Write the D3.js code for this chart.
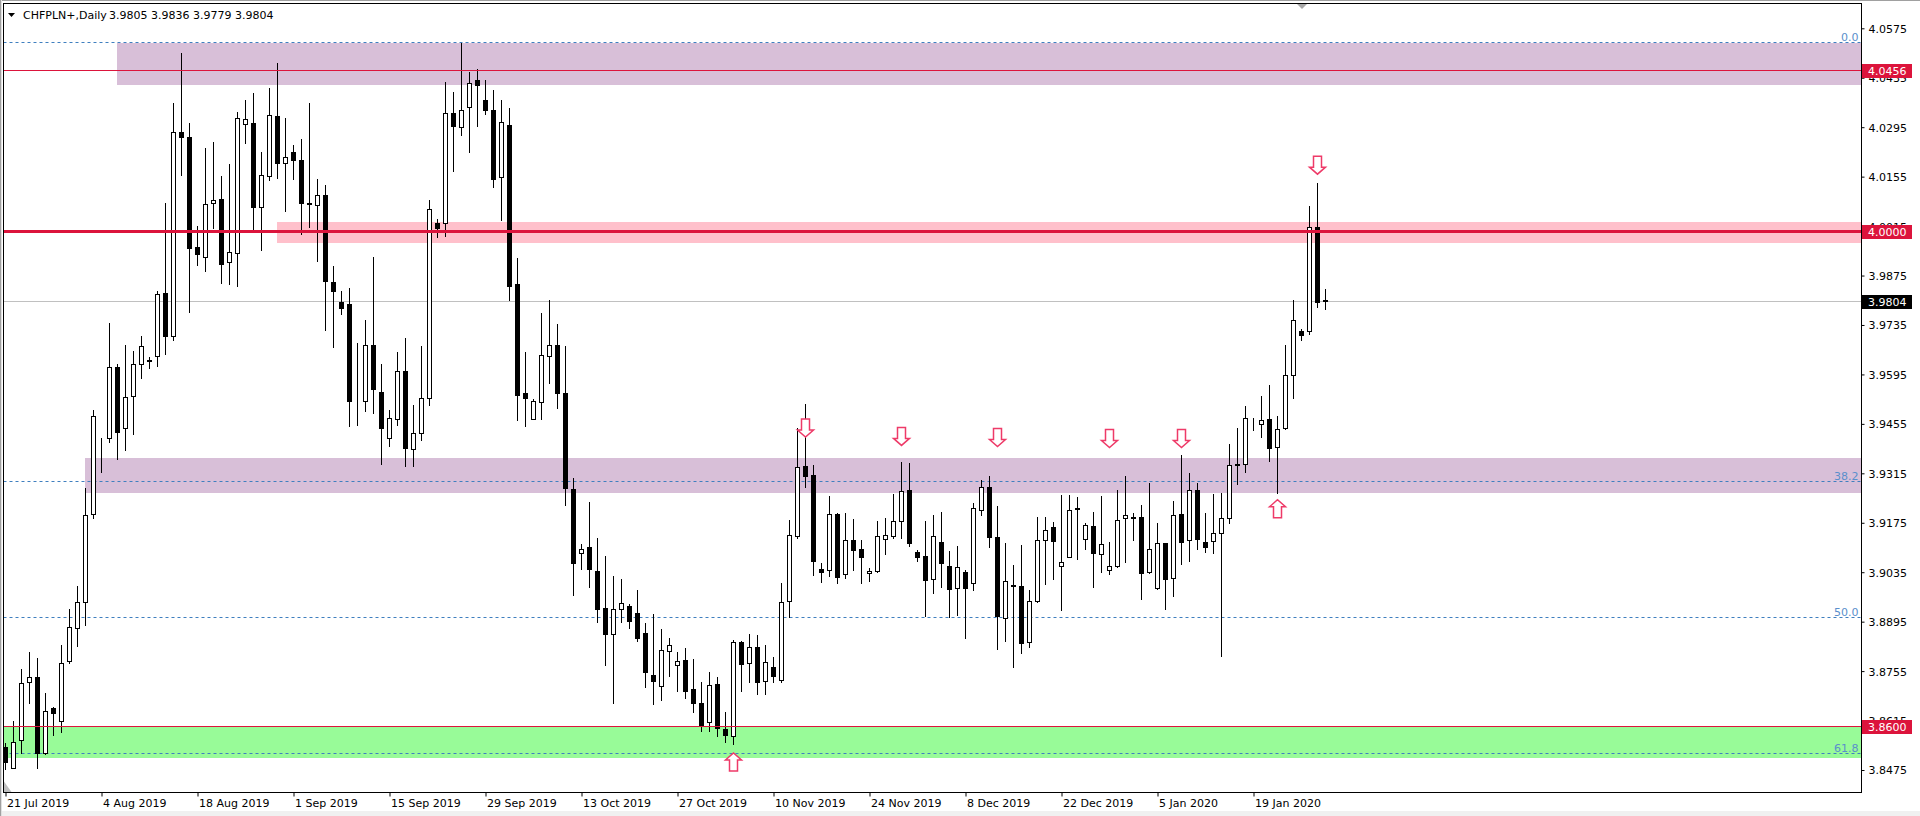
<!DOCTYPE html>
<html><head><meta charset="utf-8">
<script src="https://cdn.jsdelivr.net/npm/d3@7"></script>
<style>
html,body{margin:0;padding:0;background:#fff;overflow:hidden}
svg{display:block}
text{font-family:"DejaVu Sans",Verdana,sans-serif;font-size:11px}
</style>
</head><body>
<svg id="chart" width="1920" height="816"></svg>
<script>
// ---------------- DATA ----------------
const symbolTitle = "CHFPLN+,Daily";
const firstDay = "2019-07-21";   // first bar (Sunday session); Saturday has no bar
const lastDay = "2020-01-29";

const open = [3.8541,3.8482,3.8560,3.8723,3.8737,3.8522,3.8650,3.8615,3.8785,3.8878,
3.8952,3.9200,3.9406,3.9416,3.9617,3.9443,3.9534,3.9624,3.9637,3.9647,
3.9826,3.9704,4.0282,4.0268,3.9957,3.9928,4.0079,4.0092,3.9912,3.9938,
4.0303,4.0306,4.0068,4.0156,4.0326,4.0195,4.0224,4.0202,4.0080,4.0074,
4.0103,3.9856,3.9799,3.9793,3.9520,3.9519,3.9677,3.9544,3.9414,3.9468,
3.9604,3.9383,3.9428,3.9527,4.0023,4.0023,4.0335,4.0295,4.0352,4.0430,
4.0371,4.0344,4.0153,4.0301,3.9850,3.9541,3.9469,3.9516,3.9647,3.9679,
3.9543,3.9271,3.9090,3.9105,3.9038,3.8933,3.8861,3.8931,3.8938,3.8919,
3.8862,3.8743,3.8713,3.8811,3.8771,3.8787,3.8705,3.8665,3.8610,3.8719,
3.8590,3.8570,3.8838,3.8777,3.8823,3.8727,3.8767,3.8729,3.8953,3.9138,
3.9336,3.9310,3.9044,3.9040,3.9200,3.9029,3.9125,3.9101,3.9032,3.9038,
3.9130,3.9138,3.9179,3.9268,3.9091,3.9081,3.9015,3.9120,3.9052,3.8989,
3.9036,3.9004,3.9210,3.9275,3.9134,3.8904,3.8998,3.8995,3.8837,3.8953,
3.9125,3.9162,3.9054,3.9077,3.9216,3.9128,3.9165,3.9086,3.9040,3.9052,
3.9188,3.9191,3.9191,3.9035,3.8989,3.9117,3.9018,3.9200,3.9125,3.9268,
3.9121,3.9123,3.9145,3.9188,3.9341,3.9341,3.9454,3.9454,3.9468,3.9389,
3.9442,3.9592,3.9718,3.9717,4.0011,3.9805];
const high = [3.8551,3.8613,3.8761,3.8809,3.8793,3.8694,3.8652,3.8828,3.8931,3.8995,
3.9273,3.9494,3.9416,3.9742,3.9624,3.9677,3.9660,3.9703,3.9645,3.9831,
4.0079,4.0363,4.0505,4.0308,4.0015,4.0236,4.0252,4.0158,4.0191,4.0337,
4.0372,4.0392,4.0225,4.0406,4.0477,4.0321,4.0245,4.0262,4.0363,4.0148,
4.0131,3.9902,3.9831,3.9840,3.9684,3.9749,3.9927,3.9624,3.9494,3.9658,
3.9698,3.9508,3.9675,4.0088,4.0034,4.0423,4.0395,4.0533,4.0450,4.0460,
4.0430,4.0400,4.0372,4.0350,3.9924,3.9658,3.9526,3.9768,3.9805,3.9737,
3.9675,3.9301,3.9116,3.9235,3.9133,3.9081,3.9025,3.9017,3.8945,3.8985,
3.8892,3.8918,3.8875,3.8849,3.8809,3.8821,3.8790,3.8724,3.8753,3.8738,
3.8640,3.8843,3.8840,3.8860,3.8857,3.8829,3.8795,3.9004,3.9183,3.9442,
3.9511,3.9339,3.9061,3.9251,3.9204,3.9203,3.9186,3.9126,3.9047,3.9180,
3.9188,3.9256,3.9347,3.9344,3.9098,3.9180,3.9197,3.9205,3.9095,3.9109,
3.9041,3.9231,3.9296,3.9307,3.9222,3.9118,3.9056,3.9112,3.8985,3.9190,
3.9191,3.9177,3.9254,3.9254,3.9248,3.9173,3.9205,3.9251,3.9121,3.9268,
3.9308,3.9202,3.9225,3.9288,3.9174,3.9118,3.9238,3.9367,3.9316,3.9288,
3.9203,3.9256,3.9260,3.9398,3.9443,3.9506,3.9473,3.9533,3.9565,3.9477,
3.9678,3.9806,3.9724,4.0072,4.0137,3.9836];
const low = [3.8477,3.8480,3.8524,3.8664,3.8480,3.8520,3.8575,3.8584,3.8779,3.8827,
3.8885,3.9189,3.9319,3.9403,3.9355,3.9380,3.9425,3.9585,3.9613,3.9618,
3.9653,3.9693,4.0161,3.9772,3.9905,3.9888,4.0009,3.9854,3.9851,3.9846,
4.0251,4.0003,3.9948,4.0146,4.0152,4.0059,4.0149,3.9993,4.0013,3.9917,
3.9722,3.9673,3.9767,3.9448,3.9453,3.9492,3.9485,3.9340,3.9391,3.9452,
3.9336,3.9336,3.9410,3.9509,3.9985,3.9988,4.0172,4.0274,4.0225,4.0298,
4.0333,4.0127,4.0033,3.9805,3.9465,3.9449,3.9468,3.9468,3.9572,3.9499,
3.9224,3.8970,3.9044,3.8993,3.8893,3.8771,3.8665,3.8893,3.8876,3.8839,
3.8710,3.8662,3.8673,3.8742,3.8700,3.8680,3.8640,3.8585,3.8585,3.8570,
3.8555,3.8550,3.8700,3.8725,3.8690,3.8690,3.8725,3.8725,3.8907,3.9133,
3.9277,3.9028,3.9008,3.9025,3.9004,3.9020,3.9042,3.9005,3.9011,3.9036,
3.9086,3.9133,3.9133,3.9110,3.9068,3.8911,3.8977,3.8994,3.8907,3.8914,
3.8850,3.8985,3.9198,3.9107,3.8819,3.8841,3.8768,3.8805,3.8824,3.8950,
3.9003,3.9017,3.8929,3.9077,3.9073,3.9100,3.8994,3.9037,3.9029,3.9050,
3.9065,3.9126,3.8960,3.9032,3.8987,3.8932,3.8969,3.9057,3.9068,3.9100,
3.9093,3.9089,3.8799,3.9174,3.9284,3.9320,3.9437,3.9419,3.9349,3.9258,
3.9440,3.9529,3.9692,3.9709,3.9787,3.9779];
const close = [3.8497,3.8555,3.8720,3.8739,3.8524,3.8643,3.8636,3.8779,3.8881,3.8952,
3.9197,3.9478,3.9407,3.9617,3.9431,3.9532,3.9624,3.9676,3.9632,3.9823,
3.9704,4.0280,4.0268,3.9952,3.9936,4.0078,4.0090,3.9908,3.9943,4.0320,
4.0317,4.0070,4.0159,4.0329,4.0195,4.0210,4.0201,4.0081,4.0077,4.0102,
3.9860,3.9830,3.9782,3.9519,3.9519,3.9677,3.9555,3.9442,3.9473,3.9604,
3.9388,3.9428,3.9527,4.0062,4.0010,4.0334,4.0299,4.0345,4.0420,4.0415,
4.0345,4.0147,4.0309,3.9846,3.9537,3.9528,3.9520,3.9651,3.9679,3.9543,
3.9273,3.9061,3.9101,3.9045,3.8930,3.8861,3.8930,3.8947,3.8897,3.8848,
3.8753,3.8727,3.8815,3.8828,3.8783,3.8700,3.8665,3.8600,3.8716,3.8595,
3.8575,3.8837,3.8776,3.8822,3.8725,3.8780,3.8742,3.8950,3.9139,3.9332,
3.9308,3.9068,3.9037,3.9199,3.9022,3.9125,3.9099,3.9079,3.9038,3.9138,
3.9139,3.9179,3.9264,3.9119,3.9079,3.9014,3.9137,3.9062,3.8988,3.9049,
3.8991,3.9216,3.9275,3.9134,3.8912,3.9009,3.8995,3.8834,3.8953,3.9125,
3.9154,3.9122,3.9063,3.9210,3.9213,3.9168,3.9089,3.9114,3.9052,3.9183,
3.9196,3.9189,3.9034,3.9101,3.9117,3.9017,3.9197,3.9120,3.9268,3.9128,
3.9106,3.9145,3.9189,3.9339,3.9339,3.9471,3.9454,3.9465,3.9386,3.9440,
3.9592,3.9748,3.9706,4.0011,3.9801,3.9804];

const priceTickLabels = ["4.0575","4.0435","4.0295","4.0155","4.0015","3.9875","3.9735","3.9595",
  "3.9455","3.9315","3.9175","3.9035","3.8895","3.8755","3.8615","3.8475"];
const dateTickLabels = ["21 Jul 2019","4 Aug 2019","18 Aug 2019","1 Sep 2019","15 Sep 2019","29 Sep 2019",
  "13 Oct 2019","27 Oct 2019","10 Nov 2019","24 Nov 2019","8 Dec 2019","22 Dec 2019","5 Jan 2020","19 Jan 2020"];

// horizontal levels (red lines with price tags)
const levelPrices = [4.0456, 4.0000, 3.8600];
const levelWidths = [1, 3, 1];
const lastPrice = 3.9804;

// fibonacci retracement levels
const fibLabels = ["0.0","38.2","50.0","61.8"];
const fibPrices = [4.0535, 3.9293, 3.8909, 3.8524];

// zones: top price, bottom price, start bar (-1 = from left edge), colour
const zoneTop = [4.0533, 4.0026, 3.9357, 3.8600];
const zoneBottom = [4.0415, 3.9968, 3.9260, 3.8509];
const zoneStartBar = [14, 34, 10, -1];
const zoneColor = ["#d8bfd8", "#ffc0cb", "#d8bfd8", "#98fb98"];

// signal arrows: bar index, tip price, direction
const arrowBar = [100, 112, 124, 138, 147, 164, 91, 159];
const arrowTip = [3.9418, 3.9394, 3.9391, 3.9388, 3.9388, 4.0162, 3.8523, 3.9240];
const arrowDir = ["down","down","down","down","down","down","up","up"];

// ---------------- DRAW ----------------
const svg = d3.select("#chart");
const PL = 3.5, PR = 1861.5, PT = 3.5, PB = 792.5;

const dates = d3.utcDay.range(new Date(firstDay + "T00:00:00Z"), d3.utcDay.offset(new Date(lastDay + "T00:00:00Z"), 1))
  .filter(d => d.getUTCDay() !== 6);
const fmt = d3.utcFormat("%-d %b %Y");
const bars = dates.map((d, i) => ({d, o: open[i], h: high[i], l: low[i], c: close[i]}));

const x = d3.scalePoint().domain(dates.map(d => +d)).range([5.5, 5.5 + 8 * (dates.length - 1)]);
const y = d3.scaleLinear().domain([3.8475, 4.0575]).range([770, 28.3]);
const py = v => Math.round(y(v)) + 0.5;

svg.append("rect").attr("width", 1920).attr("height", 816).attr("fill", "#fff");
svg.append("rect").attr("x", 0).attr("y", 811).attr("width", 1920).attr("height", 5).attr("fill", "#f0f0f0");

const clip = svg.append("clipPath").attr("id", "pc").append("rect")
  .attr("x", PL).attr("y", PT).attr("width", PR - PL).attr("height", PB - PT);
const g = svg.append("g").attr("clip-path", "url(#pc)");

// zones
zoneTop.forEach((t, i) => {
  const x0 = zoneStartBar[i] < 0 ? PL : x(+dates[zoneStartBar[i]]) - 0.5;
  g.append("rect").attr("x", x0).attr("y", Math.round(y(t)))
    .attr("width", PR - x0).attr("height", Math.round(y(zoneBottom[i])) - Math.round(y(t)))
    .attr("fill", zoneColor[i]);
});

// fib lines
fibPrices.forEach((p, i) => {
  g.append("line").attr("x1", PL).attr("x2", PR).attr("y1", py(p)).attr("y2", py(p))
    .attr("stroke", "#3f7fbf").attr("stroke-dasharray", "3,3");
  g.append("text").attr("x", PR - 3).attr("y", py(p) - 1.5).attr("text-anchor", "end")
    .attr("fill", "#5a8fcc").text(fibLabels[i]);
});

// current price line
g.append("line").attr("x1", PL).attr("x2", PR).attr("y1", py(lastPrice)).attr("y2", py(lastPrice))
  .attr("stroke", "#c0c0c0");

// candles
const cg = g.append("g").attr("shape-rendering", "crispEdges");
cg.selectAll("line.w").data(bars).join("line").attr("class", "w")
  .attr("x1", b => x(+b.d)).attr("x2", b => x(+b.d))
  .attr("y1", b => Math.round(y(b.h))).attr("y2", b => Math.round(y(b.l)) + 1)
  .attr("stroke", "#000");
cg.selectAll("rect.b").data(bars).join("rect").attr("class", "b")
  .attr("x", b => x(+b.d) - 2)
  .attr("y", b => py(Math.max(b.o, b.c)))
  .attr("width", 4)
  .attr("height", b => Math.max(0, py(Math.min(b.o, b.c)) - py(Math.max(b.o, b.c))))
  .attr("fill", b => b.c >= b.o ? "#fff" : "#000")
  .attr("stroke", "#000");

// red levels
levelPrices.forEach((p, i) => {
  g.append("line").attr("x1", PL).attr("x2", PR).attr("y1", py(p)).attr("y2", py(p))
    .attr("stroke", "#dc143c").attr("stroke-width", levelWidths[i]);
});

// arrows
const downPath = "M-4,-18 L4,-18 L4,-7 L8,-7 L0,0 L-8,-7 L-4,-7 Z";
arrowBar.forEach((bi, i) => {
  const ax = x(+dates[bi]), ay = y(arrowTip[i]);
  const rot = arrowDir[i] === "up" ? 180 : 0;
  g.append("path").attr("d", downPath)
    .attr("transform", `translate(${ax},${ay}) rotate(${rot})`)
    .attr("fill", "#fff").attr("stroke", "#ee3a68").attr("stroke-width", 1.5)
    .attr("stroke-linejoin", "miter");
});

// price axis
const yAxis = d3.axisRight(y).tickValues(priceTickLabels.map(Number))
  .tickFormat(d3.format(".4f")).tickSize(3).tickPadding(4);
const ya = svg.append("g").attr("transform", `translate(${PR},0)`).call(yAxis);
ya.select(".domain").remove();
ya.attr("font-family", null).attr("font-size", null);
ya.selectAll("text").attr("fill", "#000").attr("dy", "0.36em");
ya.selectAll("line").attr("stroke", "#000");

// price tags
function tag(p, bg) {
  const yy = Math.round(y(p));
  svg.append("rect").attr("x", PR + 0.5).attr("y", yy - 6).attr("width", 50).attr("height", 14).attr("fill", bg);
  svg.append("text").attr("x", PR + 6.5).attr("y", yy + 1).attr("dy", "0.36em").attr("fill", "#fff")
    .text(p.toFixed(4));
}
levelPrices.forEach(p => tag(p, "#dc143c"));
tag(lastPrice, "#000");

// date axis
const tickDates = dateTickLabels.map(s => dates.find(d => fmt(d) === s)).filter(Boolean).map(d => +d);
const xAxis = d3.axisBottom(x).tickValues(tickDates).tickFormat(v => fmt(new Date(v))).tickSize(4).tickPadding(2);
const xa = svg.append("g").attr("transform", `translate(0,${PB})`).call(xAxis);
xa.select(".domain").remove();
xa.attr("font-family", null).attr("font-size", null);
xa.selectAll("line").attr("stroke", "#000");
xa.selectAll("text").attr("fill", "#000").attr("text-anchor", "start").attr("x", 1).attr("y", 5).attr("dy", "0.85em");

// frame
svg.append("rect").attr("x", PL).attr("y", PT).attr("width", PR - PL).attr("height", PB - PT)
  .attr("fill", "none").attr("stroke", "#000");
svg.append("line").attr("x1", 0).attr("x2", 1920).attr("y1", 0.5).attr("y2", 0.5).attr("stroke", "#a0a0a0");
svg.append("line").attr("x1", 0.5).attr("x2", 0.5).attr("y1", 0).attr("y2", 816).attr("stroke", "#a0a0a0");
svg.append("line").attr("x1", 1.5).attr("x2", 1.5).attr("y1", 0).attr("y2", 816).attr("stroke", "#e0e0e0");

// markers
svg.append("path").attr("d", `M${PL + 0.5},${PB - 11} L${PL + 0.5},${PB - 0.5} L${PL + 8},${PB - 0.5} Z`).attr("fill", "#c0c0c0");
svg.append("path").attr("d", "M1297,4 L1307,4 L1302,9 Z").attr("fill", "#a8a8a8");

// title
svg.append("path").attr("d", "M8,13 L15,13 L11.5,17 Z").attr("fill", "#000");
const last = bars[bars.length - 1];
svg.append("text").attr("x", 23).attr("y", 19).attr("fill", "#000").text(symbolTitle);
svg.append("text").attr("x", 109).attr("y", 19).attr("fill", "#000")
  .text([last.o, last.h, last.l, last.c].map(v => v.toFixed(4)).join(" "));
</script>
</body></html>
